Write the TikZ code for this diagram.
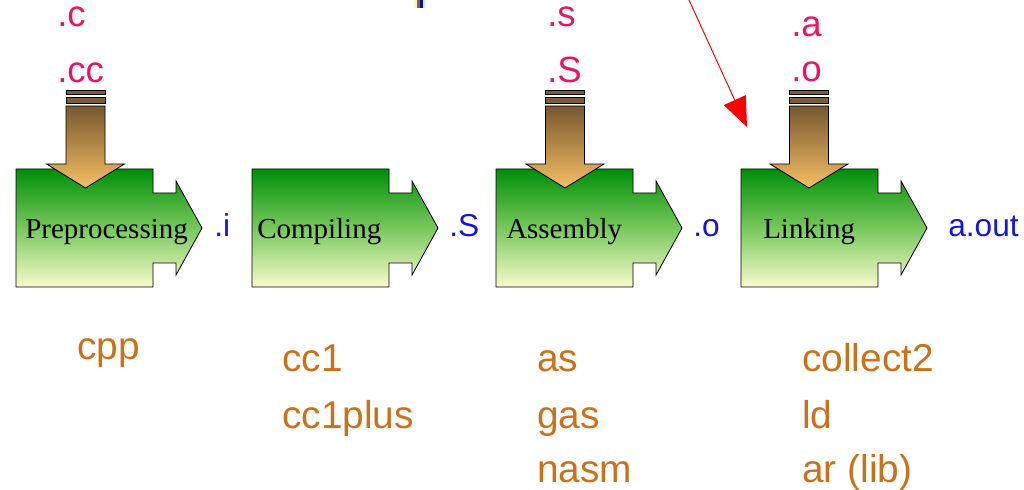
\documentclass[tikz,border=0pt]{standalone}
\usepackage{fontspec}
\setmainfont{Liberation Serif}
\setsansfont{Liberation Sans}
\usetikzlibrary{arrows.meta,calc,positioning}
\definecolor{GccGreen}{RGB}{0,142,8}
\definecolor{GccMint}{RGB}{120,200,92}
\definecolor{GccCream}{RGB}{250,250,205}
\definecolor{GccBrown}{RGB}{118,88,48}
\definecolor{GccBand}{RGB}{124,94,52}
\definecolor{GccSand}{RGB}{246,190,100}
\definecolor{GccPink}{RGB}{236,18,100}
\definecolor{GccBlue}{RGB}{20,20,232}
\definecolor{GccTool}{RGB}{204,112,26}
\tikzset{
  stagefill/.style={top color=GccGreen,bottom color=GccCream,middle color=GccMint,draw=black,line width=.6pt},
  feedfill/.style={top color=GccBrown,bottom color=GccSand,draw=black,line width=.6pt},
  stagetext/.style={inner sep=0pt,anchor=base west,font=\fontsize{20.6}{24}\selectfont},
  suffix/.style={inner sep=0pt,anchor=base west,text=GccPink,font=\sffamily\fontsize{26}{30}\selectfont},
  outfile/.style={inner sep=0pt,anchor=base west,text=GccBlue,font=\sffamily\fontsize{22.5}{26}\selectfont},
  toolname/.style={inner sep=0pt,anchor=base west,text=GccTool,font=\sffamily\fontsize{27.6}{32}\selectfont}
}
% green stage block, #1 = left, #2 = top
\newcommand{\GccStage}[2]{%
  \begin{scope}[shift={(#1,#2)}]
    \shade[stagefill] (0,0) -- (137,0) -- (137,24) -- (160,24) -- (160,12) -- (186,59)
      -- (160,106) -- (160,94) -- (137,94) -- (137,118) -- (0,118) -- cycle;
  \end{scope}}
% brown input arrow, #1 = centre x
\newcommand{\GccFeed}[1]{%
  \begin{scope}[shift={(#1,0)}]
    \filldraw[fill=GccBand,draw=black,line width=.6pt] (-19.5,90) rectangle (19.5,94.5);
    \filldraw[fill=GccBand,draw=black,line width=.6pt] (-19.5,97) rectangle (19.5,103);
    \shade[feedfill] (-19.5,106) -- (19.5,106) -- (19.5,164) -- (39,164) -- (0,188)
      -- (-39,164) -- (-19.5,164) -- cycle;
  \end{scope}}

\begin{document}
\begin{tikzpicture}[x=0.025cm,y=-0.025cm]
  \useasboundingbox (0,0) rectangle (1024,490);
  % stray strip at the top edge
  \fill[GccCream] (414,0) rectangle (417,8);
  \fill[GccBrown!80!orange] (417,0) rectangle (420,8);
  \fill[GccBlue!70!black] (420,0) rectangle (422.5,8);
  \fill[cyan!20] (422.5,0) rectangle (425,8);

  \GccStage{16}{169}
  \GccStage{252}{169}
  \GccStage{496}{169}
  \GccStage{741}{169}
  \GccFeed{85.5}
  \GccFeed{565}
  \GccFeed{809}

  \node[stagetext] (pre) at (25,239) {Preprocessing};
  \node[stagetext] (cmp) at (257,239) {Compiling};
  \node[stagetext] (asm) at (506,239) {Assembly};
  \node[stagetext] (lnk) at (763,239) {Linking};

  \node[suffix] (inc) at (57,27) {.c};
  \node[suffix] (incc) at (57,83) {.cc};
  \node[suffix] (ins) at (547,27) {.s};
  \node[suffix] (inS) at (547,83) {.S};
  \node[suffix] (ina) at (791,37) {.a};
  \node[suffix] (ino) at (791,82) {.o};

  \node[outfile] (outi) at (214,237) {.i};
  \node[outfile] (outS) at (449,237) {.S};
  \node[outfile] (outo) at (693,237) {.o};
  \node[outfile] (outexe) at (948,237) {a.out};

  \node[toolname] (cpp) at (77,360) {cpp};
  \node[toolname] (ccone) at (282,372) {cc1};
  \node[toolname] (ccplus) at (282,428) {cc1plus};
  \node[toolname] (as) at (537,372) {as};
  \node[toolname] (gas) at (537,428) {gas};
  \node[toolname] (nasm) at (537,482) {nasm};
  \node[toolname] (collect) at (802,372) {collect2};
  \node[toolname] (ld) at (802,428) {ld};
  \node[toolname] (ar) at (802,482) {ar (lib)};

  \coordinate (hintfrom) at (689,0);
  \coordinate (hintto) at (747,127);
  \draw[red,line width=.7pt,-{Triangle[length=21pt,width=17pt]}] (hintfrom) -- (hintto);
\end{tikzpicture}
\end{document}
